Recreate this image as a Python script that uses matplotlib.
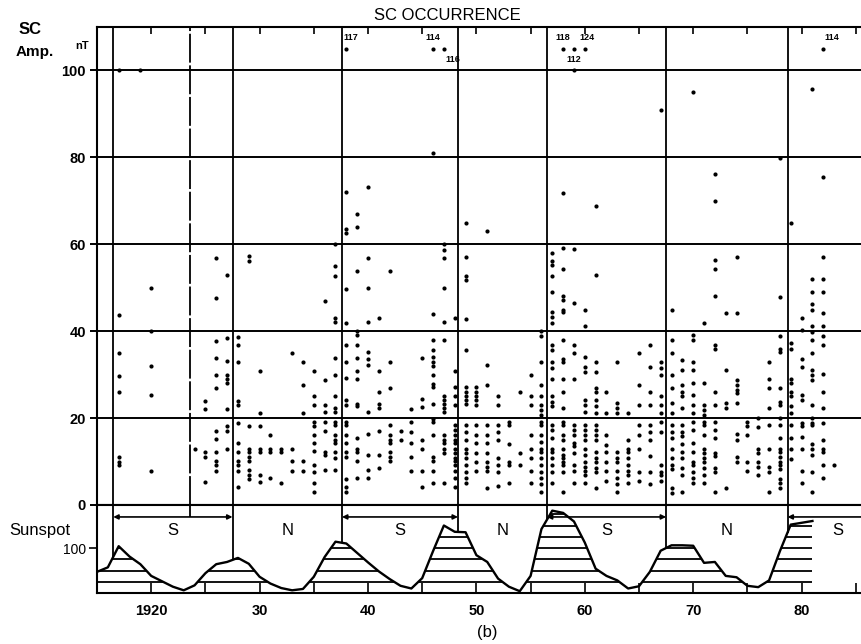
import numpy as np
import matplotlib
matplotlib.use('Agg')
import matplotlib.pyplot as plt
from matplotlib.patches import PathPatch
from matplotlib.ticker import FixedLocator, MultipleLocator

plt.rcParams['font.family'] = ['Liberation Sans', 'DejaVu Sans']

# ---------------- data ----------------
# annual sunspot number (curve in lower panel)
ss_year = list(range(1915, 1982))
ss_num = [47, 57, 104, 81, 64, 38, 26, 14, 6, 17,
          44, 64, 69, 78, 65, 36, 21, 11, 6, 9,
          36, 80, 114, 110, 89, 68, 48, 31, 16, 10,
          33, 93, 150, 136, 135, 84, 69, 32, 14, 4,
          38, 142, 183, 178, 159, 112, 54, 38, 28, 10,
          15, 47, 94, 106, 106, 105, 67, 69, 38, 35,
          16, 13, 28, 93, 152, 156, 160]

# cycle boundaries (polarity regions S / N); last one is beyond the frame
boundaries = [1916.5, 1927.5, 1937.6, 1948.3, 1956.5, 1967.5, 1978.7, 1988.0]
region_labels = ['S', 'N', 'S', 'N', 'S', 'N', 'S']
gap_year = 1923.6

# SC amplitudes (nT) grouped by year
sc_cols = [1917, 1919, 1920, 1924, 1925, 1926, 1927, 1928, 1929, 1930,
           1931, 1932, 1933, 1934, 1935, 1936, 1937, 1938, 1939, 1940,
           1941, 1942, 1943, 1944, 1945, 1946, 1947, 1948, 1949, 1950,
           1951, 1952, 1953, 1954, 1955, 1956, 1957, 1958, 1959, 1960,
           1961, 1962, 1963, 1964, 1965, 1966, 1967, 1968, 1969, 1970,
           1971, 1972, 1973, 1974, 1975, 1976, 1977, 1978, 1979, 1980,
           1981, 1982, 1983]
sc_vals = [
    [100, 43.8, 35, 29.7, 26, 11, 10, 9.2],
    [100],
    [50, 40, 32, 25.3, 7.9],
    [13],
    [23.9, 22.1, 12.1, 11, 5.2],
    [56.9, 47.7, 37.8, 33.9, 29.9, 27, 17, 15.1, 12.1, 10.1, 9.1, 7.9],
    [53, 38.5, 33.1, 29.9, 29.1, 28, 22.1, 18.1, 17, 13],
    [38.7, 36.9, 33, 23.9, 23, 18.9, 14.3, 12.1, 10.1, 9.1, 7.9, 4.1],
    [57.2, 56.1, 18.1, 13, 12.1, 11, 10.1, 8.1, 7, 5.9],
    [30.8, 21.2, 18.1, 13, 12.1, 7, 5.2],
    [16.1, 13, 12.1, 6.3],
    [13, 12.1, 5.1],
    [35, 13, 10.1, 7.9],
    [33, 27.6, 21.1, 10.1, 7.9],
    [30.9, 25.1, 23.1, 19, 18.2, 16.1, 14.2, 12.4, 9.2, 7.7, 5.1, 3.1],
    [47, 28.7, 23.1, 21.4, 19, 17.1, 12.1, 11.4, 8.1],
    [60, 54.9, 52.7, 43.1, 42, 33.8, 29.9, 25.1, 22.3, 21.4, 19, 18.5, 16.1,
     14.9, 14.2, 12.1, 10.8, 8.1],
    [72, 63.5, 62.5, 49.7, 41.9, 36.9, 33, 29.2, 24.2, 23.1, 19, 18.5, 16.1,
     14.2, 12.3, 11.1, 5.9, 4.2, 3.1],
    [66.9, 63.9, 53.9, 40, 39.2, 36.9, 33.9, 30.9, 28.9, 23.2, 22.7, 15.4, 13,
     12.1, 10.1, 6.1],
    [73.1, 56.9, 50, 42.1, 35.3, 33.6, 32.2, 21.4, 16.3, 11.4, 8.1, 6.1],
    [43, 30.9, 26.1, 23.2, 22.3, 17.1, 11.4, 8.5],
    [53.9, 33, 27, 18.5, 16.1, 14.9, 14.2, 12.3, 11.1, 10.1],
    [17.1, 14.9],
    [22, 19, 16.9, 14.2, 11.1, 7.9],
    [33.9, 24.3, 22.5, 14.9, 13, 7.9, 4.2],
    [81.1, 44, 37.9, 35.6, 34.1, 33, 31.9, 30, 27.8, 27.1, 23.2, 19.9, 19,
     16.1, 11.1, 10.1, 7.9, 5.1],
    [60, 58.7, 56.9, 50, 42, 38, 25.1, 24.2, 23.2, 22.3, 21.4, 16.1, 14.9,
     14.2, 13, 11.9, 5.1],
    [43, 30.9, 27.1, 25.1, 23.1, 18.5, 17.3, 16.1, 15, 14.2, 13, 11.9, 10.8,
     10.1, 9.3, 7.9, 6.3, 4.2],
    [65, 57, 52.6, 51.8, 42.9, 35.6, 27.1, 26.1, 25.1, 24.2, 23.2, 18.5, 16.9,
     15, 13, 11.9, 10.8, 9.3, 7.7, 6.3, 5.1],
    [27.1, 26.1, 25.1, 24.2, 23, 18.5, 16.1, 14.2, 11.9, 10, 7.9],
    [63, 32.3, 27.7, 18.4, 16.1, 14.2, 11.9, 10, 8.8, 7.9, 3.9],
    [25.1, 23, 18.4, 16.7, 15, 10.8, 9.3, 7.7, 4.3],
    [19.2, 18.4, 14, 10, 9.3, 5],
    [26.1, 11.9, 9.3],
    [29.9, 25.1, 23, 16.1, 13, 10.8, 7.9, 5],
    [40, 38.8, 33, 27.7, 25.1, 23, 21.8, 20.7, 19.2, 18.4, 16.1, 14.6, 13,
     12.3, 10.8, 9.3, 7.7, 6.3, 4.8, 3.1],
    [58.1, 56.2, 55.2, 52.6, 49, 44.3, 43.3, 41.8, 36.8, 35.6, 33, 31.5, 28.9,
     25.1, 23.8, 22.7, 18.4, 17.3, 15.4, 13, 12.3, 10.8, 9.3, 7.7, 5],
    [71.9, 59.2, 54.3, 48, 47.1, 44.8, 44.3, 37.9, 33.7, 33, 29.1, 26.1, 22.3,
     19.2, 18.4, 16.1, 15, 13, 11.6, 10.8, 10, 9.3, 7.7, 3.1],
    [100, 58.9, 46.4, 36.9, 34.9, 28.9, 18.4, 17.3, 16.1, 14.2, 13.5, 11.9,
     9.3, 7.9, 5],
    [44.8, 41.2, 34.1, 31.8, 30.6, 24.1, 23, 21.5, 18.4, 17.3, 16.1, 15, 13,
     11.6, 10, 8.8, 7.9, 6.9, 5],
    [68.8, 52.9, 32.8, 30.6, 27, 26.1, 24.1, 22.7, 21.1, 18.4, 17.3, 16.1, 15,
     12.3, 10.8, 10, 8.5, 7.7, 3.9],
    [26.1, 21.1, 16.1, 13.8, 12.3, 10, 7.9, 5.5],
    [33, 23.4, 22.3, 21.1, 12.3, 10.8, 10, 7.9, 6.3, 4.8, 3.1],
    [21.1, 15, 13, 12.3, 10.8, 9.3, 7.9, 6.9, 5],
    [34.9, 27.7, 23, 18.4, 16.1, 13, 7.7, 5.5],
    [36.9, 31.8, 26.1, 23, 18.4, 16.9, 15, 11.2, 7.7, 4.8],
    [91, 33, 31.5, 29.9, 25.1, 23, 21.1, 19.2, 16.9, 9.3, 7.7, 6.9, 5.5],
    [44.8, 37.9, 34.9, 29.9, 27, 23.4, 21.1, 18.4, 16.9, 15.4, 13, 10.8, 9.3,
     8.2, 3.9, 2.8],
    [33.4, 31.1, 27.6, 26.1, 25.1, 22.3, 18.4, 16.9, 15.8, 14, 12.1, 10.8,
     8.5, 6.9, 3.1],
    [95, 39.1, 37.9, 33, 31.1, 28, 25.3, 23, 21.1, 19.2, 17.3, 14.2, 12.3, 10,
     9.3, 7.7, 6.3, 5],
    [41.9, 28, 23, 21.8, 20.7, 19.2, 18.4, 16.1, 13, 11.9, 10.8, 10, 8.5, 6.9, 5],
    [76.1, 69.9, 56.3, 54.3, 48.2, 36.8, 36, 26.1, 23, 19.2, 17.3, 15.4, 11.9,
     11.2, 8.5, 7.7, 3.1],
    [44.1, 31.1, 23.4, 22.3, 3.9],
    [57, 44.1, 28.8, 27.6, 26.5, 25.7, 23.4, 16.3, 15, 11.1, 10],
    [19.2, 18.1, 16.1, 10, 7.9],
    [20, 17.9, 13, 11.9, 10, 8.8, 6.9],
    [33, 28.9, 26.9, 22.3, 18.4, 13, 8.8, 7.7, 3.1],
    [79.8, 47.9, 38.8, 36, 35.2, 26.9, 23.8, 23, 20, 18.4, 15.4, 13, 12.3,
     11.1, 10, 9.3, 8.2, 5.9, 5, 3.9],
    [65, 37.2, 36, 29.1, 28, 26.1, 25, 22.7, 21.1, 18.4, 15.4, 13, 10.5],
    [43, 40.3, 33.7, 31.8, 25.3, 24.1, 18.8, 18.1, 15.6, 13, 7.9, 5],
    [95.8, 52.1, 49, 46.3, 44.8, 41.2, 39.8, 37.9, 34.9, 31.1, 29.9, 28.8, 23,
     20, 18.8, 18.4, 14, 13, 11.5, 7.7, 3.1],
    [75.4, 57, 52.1, 49, 44.1, 41.3, 39, 36.8, 30.2, 26.1, 22.3, 18.8, 15, 13,
     12.3, 9.3, 6.1],
    [9.3],
]

# events above the scale (shown at the top with their value)
top_year = [1938, 1946, 1947, 1958, 1959, 1960, 1982]
top_amp = [117, 114, 116, 118, 112, 124, 114]

xtick_pos = [1920, 1930, 1940, 1950, 1960, 1970, 1980]
xtick_labels = ['1920', '30', '40', '50', '60', '70', '80']
ytick_pos = [0, 20, 40, 60, 80, 100]

# ---------------- figure ----------------
W, H = 862, 644
fig = plt.figure(figsize=(W / 100, H / 100), dpi=100)

def fx(px):
    return px / W

def fy(py):
    return 1 - py / H

x0, x1 = 1915, 1915 + 765 / 10.84
ax = fig.add_axes([fx(97), fy(505), fx(765), 478 / H])
axb = fig.add_axes([fx(97), fy(593), fx(765), 88 / H])

LW = 1.5
# ---- top panel ----
ax.set_xlim(x0, x1)
ax.set_ylim(0, 110)
for s in ['left', 'top', 'bottom']:
    ax.spines[s].set_linewidth(LW)
ax.spines['right'].set_visible(False)
for v in ytick_pos[1:]:
    ax.axhline(v, color='black', lw=1.4, zorder=1)
for b in boundaries[:-1]:
    ax.axvline(b, color='black', lw=1.3, zorder=1)
ax.axvline(gap_year, color='black', lw=1.3, ls=(0, (16, 1.5)), zorder=1)

sc_x = np.concatenate([[c] * len(v) for c, v in zip(sc_cols, sc_vals)])
sc_y = np.concatenate(sc_vals)
ax.plot(sc_x, sc_y, 'o', color='black', ms=3.0, mec='none', zorder=3)

cap = 105
ax.plot(top_year, [cap] * len(top_year), 'o', color='black', ms=3.0,
        mec='none', zorder=3)
lab_dx = [0.4, 0.0, 0.8, 0.0, 0.0, 0.2, 0.8]
lab_dy = [2.5, 2.5, -2.4, 2.5, -2.4, 2.5, 2.5]
for yr, amp, dx, dy in zip(top_year, top_amp, lab_dx, lab_dy):
    ax.text(yr + dx, cap + dy, str(amp), ha='center', va='center',
            fontsize=6.5, fontweight='bold')

ax.set_yticks(ytick_pos)
ax.set_yticklabels([str(v) for v in ytick_pos], fontsize=10.5,
                   fontweight='bold')
ax.tick_params(axis='y', direction='out', length=5, width=1.4, pad=3)
ax.xaxis.set_major_locator(MultipleLocator(5))
ax.tick_params(axis='x', which='both', top=True, bottom=False,
               labelbottom=False, direction='in', length=5, width=1.2)

# ---- sunspot panel ----
ytop = 88 / 0.45
axb.set_xlim(x0, x1)
axb.set_ylim(0, ytop)
for s in ['left', 'bottom', 'top']:
    axb.spines[s].set_linewidth(LW)
axb.spines['right'].set_visible(False)

poly = axb.fill_between(ss_year, 0, ss_num, facecolor='none',
                        edgecolor='none')
clip = PathPatch(poly.get_paths()[0], transform=axb.transData,
                 facecolor='none', edgecolor='none')
axb.add_patch(clip)
hatch_levels = np.arange(25, 200, 25)
hl = axb.hlines(hatch_levels, ss_year[0], ss_year[-1], color='black', lw=1.3)
hl.set_clip_path(clip)
axb.plot(ss_year, ss_num, color='black', lw=1.7, zorder=4)

for b in boundaries[:-1]:
    axb.vlines(b, np.interp(b, ss_year, ss_num), ytop, color='black', lw=1.3)

arrow_lvl = 169
axb.vlines(gap_year, arrow_lvl, ytop, color='black', lw=1.3)
for i in range(len(region_labels)):
    b0, b1 = boundaries[i], boundaries[i + 1]
    if region_labels[i] == 'S':
        axb.annotate('', xy=(b0, arrow_lvl), xytext=(b1, arrow_lvl),
                     arrowprops=dict(arrowstyle='<|-|>', lw=1.2, color='black',
                                     mutation_scale=7, shrinkA=0, shrinkB=0),
                     annotation_clip=False)
    axb.text((b0 + b1) / 2, 138, region_labels[i], ha='center', va='center',
             fontsize=12)

axb.set_yticks([100])
axb.set_yticklabels(['100'], fontsize=10)
axb.tick_params(axis='y', direction='out', length=6, width=1.2, pad=2)
axb.xaxis.set_major_locator(FixedLocator(xtick_pos))
axb.set_xticklabels(xtick_labels, fontsize=10.5, fontweight='bold')
axb.xaxis.set_minor_locator(MultipleLocator(5))
axb.tick_params(axis='x', which='both', direction='in', length=7, width=1.2,
                top=False, pad=8)

# ---- texts ----
fig.text(fx(30), fy(30), 'SC', ha='center', va='center', fontsize=12,
         fontweight='bold')
fig.text(fx(35), fy(52), 'Amp.', ha='center', va='center', fontsize=11,
         fontweight='bold')
fig.text(fx(82), fy(46), 'nT', ha='center', va='center', fontsize=8,
         fontweight='bold')
fig.text(fx(447), fy(16), 'SC OCCURRENCE', ha='center', va='center',
         fontsize=12)
fig.text(fx(40), fy(531), 'Sunspot', ha='center', va='center', fontsize=12)
fig.text(fx(487), fy(632), '(b)', ha='center', va='center', fontsize=12)

fig.savefig('out.png', dpi=100)
